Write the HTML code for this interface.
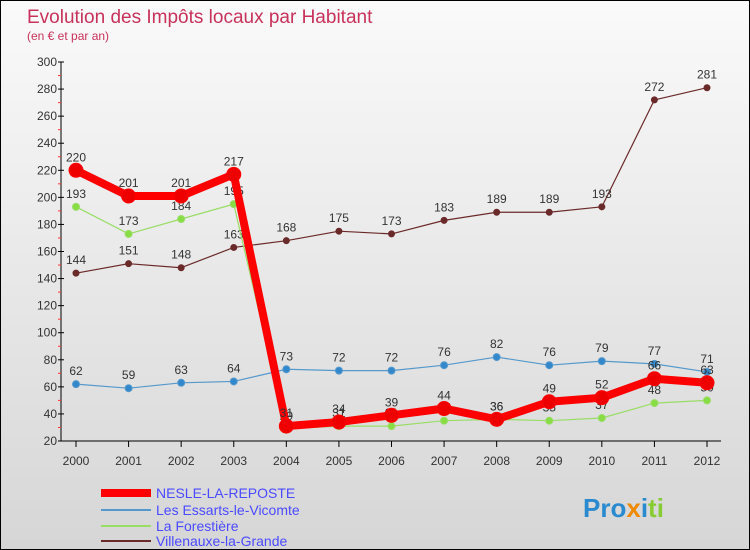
<!DOCTYPE html>
<html><head><meta charset="utf-8"><style>
body{margin:0}
#c{width:750px;height:550px;position:relative;overflow:hidden;box-sizing:border-box;border:1px solid #000;background:linear-gradient(#fafafa,#d6d6d6);font-family:"Liberation Sans",sans-serif}
</style></head><body>
<div id="c">
<svg width="750" height="550" style="position:absolute;left:0;top:0" id="svg">
<text x="26" y="22" font-size="19" fill="#c8325a">Evolution des Impôts locaux par Habitant</text>
<text x="26" y="39" font-size="12" fill="#c8325a">(en € et par an)</text>
<g id="axes"></g><g id="series"></g>
<g font-size="14" fill="#4a4aff">
<line x1="100" y1="492" x2="150" y2="492" stroke="#f00" stroke-width="8"/>
<text x="155" y="497">NESLE-LA-REPOSTE</text>
<line x1="100" y1="509" x2="150" y2="509" stroke="#5599cc" stroke-width="2"/>
<text x="155" y="514">Les Essarts-le-Vicomte</text>
<line x1="100" y1="525" x2="150" y2="525" stroke="#99dd66" stroke-width="2"/>
<text x="155" y="530">La Forestière</text>
<line x1="100" y1="540" x2="150" y2="540" stroke="#6b2a2a" stroke-width="2"/>
<text x="155" y="545">Villenauxe-la-Grande</text>
</g>
<text x="582" y="516" font-size="26" font-weight="bold"><tspan fill="#2a8ad0">Pro</tspan><tspan fill="#f08a00">x</tspan><tspan fill="#2a8ad0">i</tspan><tspan fill="#88cc33">ti</tspan></text>
</svg>
</div>
<script>
const years=[2000,2001,2002,2003,2004,2005,2006,2007,2008,2009,2010,2011,2012];
const nesle=[220,201,201,217,31,34,39,44,36,49,52,66,63];
const essarts=[62,59,63,64,73,72,72,76,82,76,79,77,71];
const forestiere=[193,173,184,195,29,31,31,35,36,35,37,48,50];
const villenaux=[144,151,148,163,168,175,173,183,189,189,193,272,281];
const yTicks=[20,40,60,80,100,120,140,160,180,200,220,240,260,280,300];
const NS="http://www.w3.org/2000/svg";
const X=i=>75+i*(706-75)/12;
const Y=v=>440-(v-20)*(440-61)/280;
function mk(t,a,p){const e=document.createElementNS(NS,t);for(const k in a)e.setAttribute(k,a[k]);p.appendChild(e);return e;}
const ax=document.getElementById('axes');
const yl=mk('line',{x1:60,y1:Y(300),x2:60,y2:440,stroke:'#000'},ax);


const xl=mk('line',{x1:60,y1:440,x2:720,y2:440,stroke:'#000'},ax);


yTicks.forEach(v=>{
 mk('line',{x1:57,x2:63,y1:Y(v),y2:Y(v),stroke:'#000'},ax);
 if(v<300)mk('line',{x1:57,x2:60,y1:Y(v+10),y2:Y(v+10),stroke:'#f33'},ax);
 const t=mk('text',{x:56,y:Y(v)+4,'text-anchor':'end','font-size':12,fill:'#333'},ax);t.textContent=v;
 
 
});
years.forEach((y,i)=>{
 mk('line',{x1:X(i),x2:X(i),y1:440,y2:446,stroke:'#000'},ax);
 const t=mk('text',{x:X(i),y:464,'text-anchor':'middle','font-size':12,fill:'#333'},ax);t.textContent=y;
 
 
});
const sg=document.getElementById('series');
function draw(arr,name,color,w,r,dot,lbl){
 const g=mk('g',{},sg);
 
 
 const p=mk('polyline',{points:arr.map((v,i)=>X(i)+','+Y(v)).join(' '),fill:'none',stroke:color,'stroke-width':w,'stroke-linejoin':'round'},g);
 
 
 arr.forEach((v,i)=>{
  const c=mk('circle',{cx:X(i),cy:Y(v),r:r,fill:dot,stroke:color,'stroke-width':1},g);
  
  
  const t=mk('text',{x:X(i),y:Y(v)-9,'text-anchor':'middle','font-size':12,fill:'#333'},g);t.textContent=v;
  
  
 });
}
draw(villenaux,'villenaux','#6b2a2a',1.2,3,'#6b2a2a');
draw(essarts,'essarts','#5599cc',1.2,3.5,'#3388cc');
draw(forestiere,'forestiere','#99dd66',1.2,3.5,'#88dd44');
draw(nesle,'nesle','#ff0000',8,7,'#ee0000');
</script>
</body></html>
